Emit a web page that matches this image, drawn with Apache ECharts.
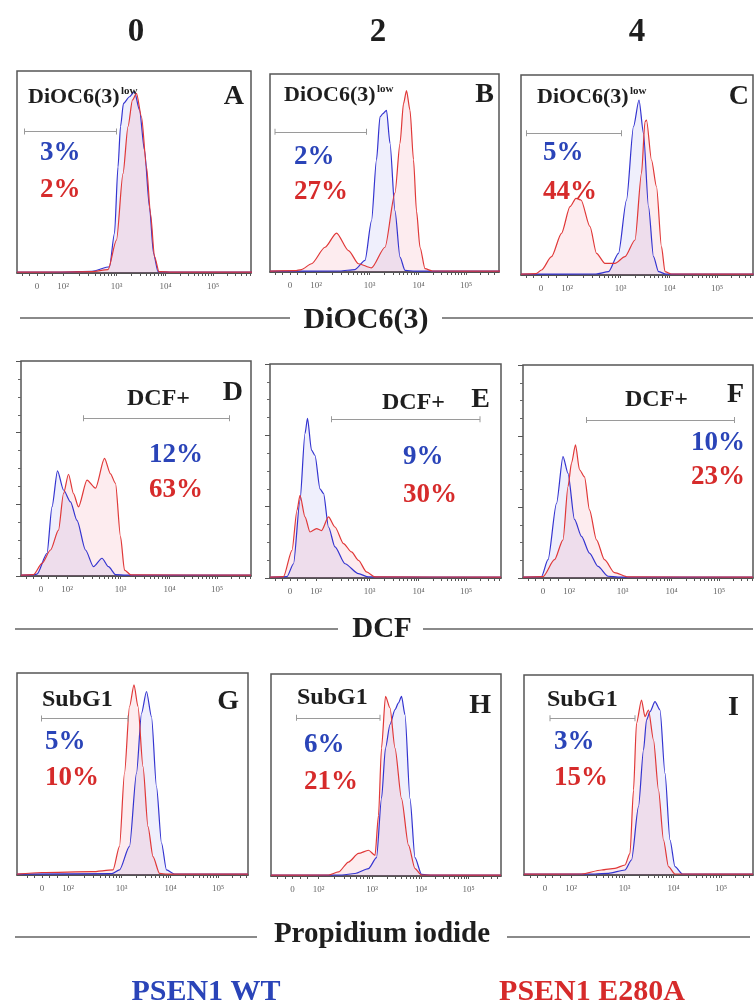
<!DOCTYPE html>
<html lang="en" style="height: 100%">
<head>
  <meta charset="utf-8">
</head>
<body style="height: 100%; margin: 0; background: #fff">
  <div id="container" style="width: 755px; height: 1008px"></div>
  <script type="text/javascript" src="https://fastly.jsdelivr.net/npm/echarts@6/dist/echarts.min.js"></script>
  <script type="text/javascript">
    // x values are in display "decades" of the logicle scale, y = % of mode (axis 0-120)
    const days = ['0', '2', '4'];
    const markers = ['DiOC6(3)', 'DCF', 'Propidium iodide'];
    const gateNames = ['DiOC6(3)', 'DCF+', 'SubG1'];
    const panelIds = ['A', 'B', 'C', 'D', 'E', 'F', 'G', 'H', 'I'];
    const groups = ['PSEN1 WT', 'PSEN1 E280A'];
    const tickVals = [1.5, 2.02, 3.09, 4.07, 5.02];
    const tickText = ['0', '10²', '10³', '10⁴', '10⁵'];

    const pctWT = ['3%', '2%', '5%', '12%', '9%', '10%', '5%', '6%', '3%'];
    const pctMut = ['2%', '27%', '44%', '63%', '30%', '23%', '10%', '21%', '15%'];

    // gate bars: [from, to, height]
    const gates = [
      [1.25, 3.09, 84], [1.2, 3.03, 85], [1.21, 3.11, 85],
      [2.35, 5.27, 88], [2.33, 5.3, 89], [2.37, 5.33, 89],
      [1.49, 3.22, 93], [1.58, 3.25, 94], [1.6, 3.3, 94]
    ];

    const A_wt = [[1.1,0.5],[2.0,0.6],[2.6,1],[2.95,3.7],[3.05,23.6],[3.12,63],[3.17,87],[3.23,100.8],[3.35,104.7],[3.45,107.7],[3.55,96.8],[3.65,73],[3.75,39],[3.83,11.7],[3.92,0.8],[4.2,0.5],[5.8,0.5]];
    const A_mut = [[1.1,0.5],[2.0,0.6],[2.6,0.8],[2.92,2],[3.09,19.6],[3.22,59],[3.32,87],[3.41,102.8],[3.49,106.7],[3.59,92.8],[3.69,63],[3.77,35.5],[3.85,9.7],[3.94,0.8],[4.2,0.5],[5.8,0.5]];
    const B_wt = [[1.1,0.5],[2.5,0.6],[2.8,1.5],[3.0,7],[3.13,31],[3.23,68],[3.3,94],[3.36,96],[3.43,98],[3.5,78],[3.6,37],[3.7,9],[3.8,1],[4.0,0.5],[5.7,0.5]];
    const B_mut = [[1.1,0.5],[1.6,0.8],[1.73,1.5],[1.93,5],[2.2,15],[2.43,23.6],[2.67,13],[2.87,5],[3.13,2.5],[3.4,15],[3.6,48],[3.7,78],[3.77,102],[3.83,110],[3.9,98],[3.97,68],[4.03,37],[4.1,15],[4.2,2],[4.35,0.6],[5.7,0.5]];
    const C_wt = [[1.1,0.5],[2.6,0.6],[2.85,2],[3.05,13],[3.21,45],[3.35,89],[3.46,105],[3.55,85],[3.65,41],[3.75,11],[3.85,2],[4.0,0.5],[5.75,0.5]];
    const C_mut = [[1.1,0.5],[1.4,0.8],[1.51,3],[1.71,11],[1.91,25],[2.08,41],[2.2,46],[2.3,45],[2.48,29],[2.61,13],[2.78,7],[2.98,7],[3.18,11],[3.38,21],[3.51,61],[3.58,92],[3.61,93],[3.71,69],[3.81,53],[3.91,17],[3.98,2],[4.1,0.6],[5.75,0.5]];
    const D_wt = [[1.1,0.5],[1.3,0.6],[1.42,1],[1.62,12.6],[1.72,38.6],[1.83,58.7],[1.95,48],[2.09,41.4],[2.22,31],[2.39,14.5],[2.55,5.2],[2.72,9.9],[2.85,5.2],[2.99,0.8],[3.2,0.5],[5.7,0.5]];
    const D_mut = [[1.1,0.5],[1.35,0.8],[1.52,7],[1.69,14.5],[1.85,25.6],[1.95,46],[2.05,56.8],[2.15,46],[2.25,38.6],[2.42,53.5],[2.59,49],[2.77,65.6],[2.89,57],[2.99,51.7],[3.09,22],[3.17,3.3],[3.3,0.6],[5.7,0.5]];
    const E_wt = [[1.1,0.5],[1.44,0.8],[1.57,8],[1.7,43.6],[1.8,81],[1.85,89.5],[1.93,71.7],[2.0,68.7],[2.1,50],[2.17,47.4],[2.27,28.6],[2.4,17.4],[2.6,8],[2.87,2.4],[3.07,0.6],[5.72,0.5]];
    const E_mut = [[1.1,0.5],[1.37,0.8],[1.54,15.5],[1.64,38],[1.7,46.4],[1.8,34.3],[1.9,25.8],[2.03,27.7],[2.13,26.6],[2.27,34.3],[2.4,28.6],[2.57,19.3],[2.73,14.6],[2.87,9.9],[3.03,3.4],[3.2,0.6],[5.72,0.5]];
    const F_wt = [[1.1,0.5],[1.47,0.8],[1.6,10.3],[1.77,42],[1.9,68.4],[2.0,59],[2.13,33],[2.27,23.4],[2.43,14],[2.6,6.5],[2.8,1],[3.0,0.5],[5.7,0.5]];
    const F_mut = [[1.1,0.5],[1.5,0.8],[1.73,10.3],[1.9,21.5],[2.0,51.5],[2.07,64.7],[2.15,75],[2.23,61],[2.33,57],[2.43,38.4],[2.57,21.5],[2.73,10.3],[2.93,3],[3.2,0.6],[5.7,0.5]];
    const G_wt = [[1.0,0.5],[2.9,0.8],[3.05,3],[3.25,17],[3.39,60.5],[3.49,96],[3.59,109],[3.69,94],[3.79,52.5],[3.89,19],[3.99,3],[4.15,0.6],[5.62,0.5]];
    const G_mut = [[1.0,0.5],[1.5,1.5],[2.5,2],[2.92,3],[3.05,17],[3.15,60.5],[3.25,100],[3.34,113],[3.42,100],[3.52,64.4],[3.62,28.7],[3.72,10.9],[3.85,1],[4.0,0.5],[5.62,0.5]];
    const H_wt = [[1.07,0.5],[2.49,0.6],[2.75,1.5],[3.02,4.4],[3.18,10.9],[3.28,46],[3.36,76],[3.45,90],[3.55,98.8],[3.62,102.8],[3.68,106.7],[3.75,95.8],[3.85,46],[3.95,10.9],[4.08,1],[4.3,0.5],[5.67,0.5]];
    const H_mut = [[1.07,0.5],[2.22,0.6],[2.42,2.4],[2.62,8.3],[2.82,13.4],[3.02,15.3],[3.15,12.3],[3.22,36],[3.28,76],[3.36,106.7],[3.45,99.8],[3.55,76],[3.68,46],[3.82,18.3],[3.95,4.4],[4.08,0.6],[5.67,0.5]];
    const I_wt = [[1.08,0.5],[2.5,0.6],[2.77,1],[3.1,3],[3.23,9],[3.37,41],[3.47,75],[3.53,93],[3.6,98],[3.7,104],[3.8,99],[3.9,61],[4.0,21],[4.1,5],[4.25,0.6],[5.66,0.5]];
    const I_mut = [[1.08,0.5],[2.23,0.6],[2.63,3],[2.9,4],[3.1,6],[3.2,13],[3.27,51],[3.33,91],[3.43,105],[3.5,95],[3.57,99],[3.67,81],[3.77,51],[3.87,21],[3.97,5],[4.1,0.6],[5.66,0.5]];

    const wtData = [A_wt, B_wt, C_wt, D_wt, E_wt, F_wt, G_wt, H_wt, I_wt];
    const mutData = [A_mut, B_mut, C_mut, D_mut, E_mut, F_mut, G_mut, H_mut, I_mut];

    // panel boxes [left, top, width, height], x start, text anchors
    const layout = [
      { box: [17, 71, 234, 202], xMin: 1.1, gate: [28, 97], letter: [244, 97], pct: [40, 153, 190, 'left'] },
      { box: [270, 74, 229, 198], xMin: 1.1, gate: [284, 95], letter: [494, 95], pct: [294, 157, 192, 'left'] },
      { box: [521, 75, 232, 200], xMin: 1.1, gate: [537, 97], letter: [749, 97], pct: [543, 153, 192, 'left'] },
      { box: [21, 361, 230, 215], xMin: 1.1, gate: [127, 399], letter: [243, 393], pct: [203, 455, 490, 'right'] },
      { box: [270, 364, 231, 214], xMin: 1.1, gate: [382, 403], letter: [490, 400], pct: [403, 457, 495, 'left'] },
      { box: [523, 365, 230, 213], xMin: 1.1, gate: [625, 400], letter: [744, 395], pct: [745, 443, 477, 'right'] },
      { box: [17, 673, 231, 202], xMin: 1.0, gate: [42, 700], letter: [239, 702], pct: [45, 742, 778, 'left'] },
      { box: [271, 674, 230, 202], xMin: 1.07, gate: [297, 698], letter: [491, 706], pct: [304, 745, 782, 'left'] },
      { box: [524, 675, 229, 200], xMin: 1.08, gate: [547, 700], letter: [739, 708], pct: [554, 742, 778, 'left'] }
    ];

    const blue = '#3434d0';
    const red = '#e03838';
    const blueText = '#2a44b8';
    const redText = '#d62b2b';
    const serif = '"Liberation Serif", "Times New Roman", serif';

    // log-style minor tick positions between the labelled decades
    const xTicks = [1.2, 1.35, 1.5, 1.65, 1.8];
    for (let d = 1; d < tickVals.length; d++) {
      const span = d < tickVals.length - 1 ? tickVals[d + 1] - tickVals[d] : 0.95;
      for (let k = 1; k <= 9; k++) xTicks.push(tickVals[d] + span * Math.log10(k));
    }

    var dom = document.getElementById('container');
    var myChart = echarts.init(dom, null, { renderer: 'canvas' });

    function txt(x, y, s, size, color, align) {
      return {
        type: 'text', x: x, y: y, z: 100,
        style: {
          text: s, font: 'bold ' + size + 'px ' + serif, fill: color,
          align: align || 'left', textAlign: align || 'left',
          verticalAlign: 'middle', textVerticalAlign: 'middle'
        }
      };
    }
    function rule(x1, y, x2) {
      return { type: 'line', z: 100, shape: { x1: x1, y1: y, x2: x2, y2: y }, style: { stroke: '#8a8a8a', lineWidth: 2 } };
    }

    var grids = [], xAxes = [], yAxes = [], series = [], graphics = [];
    layout.forEach(function (p, i) {
      var row = Math.floor(i / 3);
      grids.push({
        left: p.box[0], top: p.box[1], width: p.box[2], height: p.box[3],
        show: true, borderColor: '#555', borderWidth: 1.5, backgroundColor: '#fff'
      });
      xAxes.push({
        gridIndex: i, type: 'value', min: p.xMin, max: p.xMin + p.box[2] / 50,
        splitLine: { show: false },
        axisLine: { show: true, onZero: false, lineStyle: { color: '#444', width: 1.5 } },
        axisTick: { show: true, customValues: xTicks, length: 3, lineStyle: { color: '#555' } },
        axisLabel: {
          customValues: tickVals, margin: 9, fontSize: 9, color: '#666', fontFamily: serif,
          formatter: function (v) {
            for (var k = 0; k < tickVals.length; k++) if (Math.abs(tickVals[k] - v) < 1e-6) return tickText[k];
            return '';
          }
        }
      });
      yAxes.push({
        gridIndex: i, type: 'value', min: 0, max: 120, interval: 40,
        splitLine: { show: false },
        axisLine: { show: false },
        axisLabel: { show: false },
        axisTick: { show: row === 1, length: 5, lineStyle: { color: '#555' } },
        minorTick: { show: row === 1, splitNumber: 4, length: 3, lineStyle: { color: '#666' } }
      });
      var g = gates[i];
      series.push({
        type: 'line', xAxisIndex: i, yAxisIndex: i, data: wtData[i],
        smooth: 0.25, smoothMonotone: 'x', symbol: 'none', silent: true,
        lineStyle: { color: blue, width: 1.2 },
        areaStyle: { color: 'rgba(110,110,225,0.16)' },
        markLine: {
          silent: true, symbol: ['rect', 'rect'], symbolSize: [6, 1],
          label: { show: false },
          lineStyle: { color: '#9a9a9a', width: 1, type: 'solid' },
          data: [[{ coord: [g[0], g[2]] }, { coord: [g[1], g[2]] }]]
        }
      });
      series.push({
        type: 'line', xAxisIndex: i, yAxisIndex: i, data: mutData[i],
        smooth: 0.25, smoothMonotone: 'x', symbol: 'none', silent: true,
        lineStyle: { color: red, width: 1.2 },
        areaStyle: { color: 'rgba(235,90,120,0.17)' }
      });

      // in-panel texts
      var gname = gateNames[row];
      graphics.push(txt(p.gate[0], p.gate[1], gname, row === 0 ? 22 : 24, '#1e1e1e'));
      if (row === 0) graphics.push(txt(p.gate[0] + 93, p.gate[1] - 6, 'low', 11, '#1e1e1e'));
      graphics.push(txt(p.letter[0], p.letter[1], panelIds[i], 28, '#1e1e1e', 'right'));
      graphics.push(txt(p.pct[0], p.pct[1], pctWT[i], 27, blueText, p.pct[3]));
      graphics.push(txt(p.pct[0], p.pct[2], pctMut[i], 27, redText, p.pct[3]));
    });

    // column headers
    graphics.push(txt(136, 32, days[0], 33, '#1e1e1e', 'center'));
    graphics.push(txt(378, 32, days[1], 33, '#1e1e1e', 'center'));
    graphics.push(txt(637, 32, days[2], 33, '#1e1e1e', 'center'));

    // marker titles with rules
    graphics.push(rule(20, 318, 290), txt(366, 320, markers[0], 30, '#1e1e1e', 'center'), rule(442, 318, 753));
    graphics.push(rule(15, 629, 338), txt(382, 630, markers[1], 29, '#1e1e1e', 'center'), rule(423, 629, 753));
    graphics.push(rule(15, 937, 257), txt(382, 935, markers[2], 29, '#1e1e1e', 'center'), rule(507, 937, 750));

    // group legend
    graphics.push(txt(206, 992, groups[0], 30, blueText, 'center'));
    graphics.push(txt(592, 992, groups[1], 30, redText, 'center'));

    var option = {
      backgroundColor: '#fff',
      animation: false,
      grid: grids,
      xAxis: xAxes,
      yAxis: yAxes,
      series: series,
      graphic: graphics
    };

    if (option && typeof option === 'object') {
      myChart.setOption(option);
    }
    window.addEventListener('resize', myChart.resize);
  </script>
</body>
</html>
